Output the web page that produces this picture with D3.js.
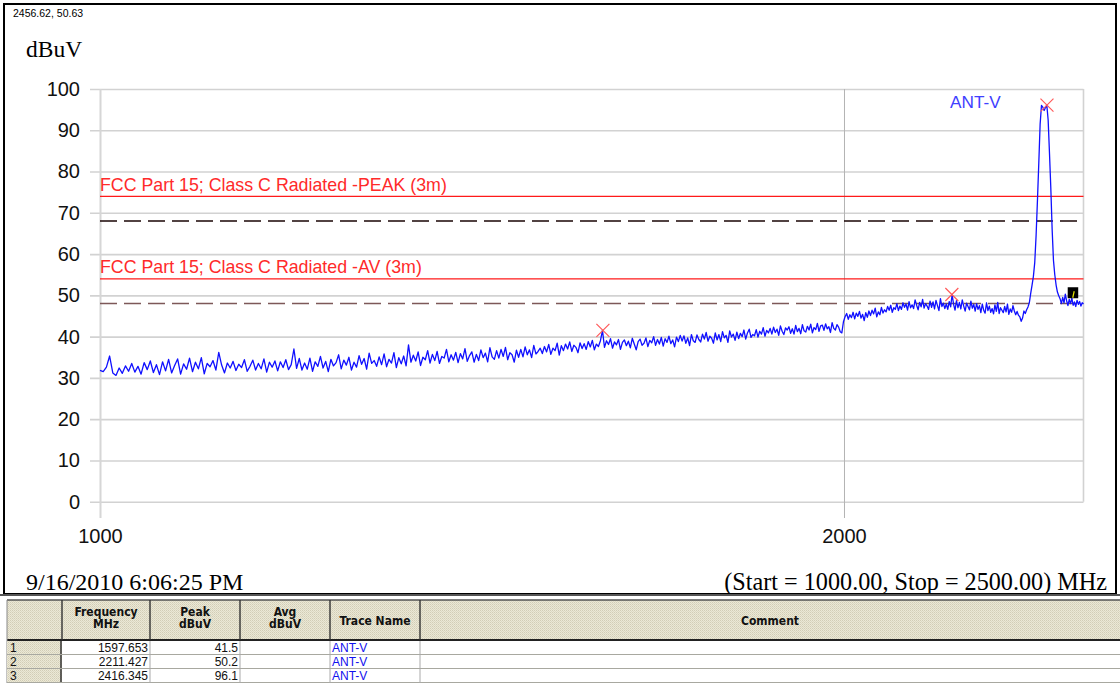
<!DOCTYPE html>
<html><head><meta charset="utf-8">
<script src="https://cdn.jsdelivr.net/npm/d3@7"></script>
<style>body{margin:0;background:#fff}svg{display:block}</style>
</head><body>
<script>
// ---------- data ----------
const startFreq = 1000, stopFreq = 2500, stepFreq = 3;
const traceValues = [
31.8,31.5,32.6,35.3,31.2,30.6,32.4,31.1,32.9,31.6,
33.5,31.4,32.8,30.9,33.7,32.0,34.1,31.3,33.2,30.8,
33.9,31.7,34.5,31.2,33.0,34.6,30.9,33.4,32.1,34.8,
31.5,33.8,32.2,34.9,31.0,33.5,32.7,34.2,31.9,36.2,
33.1,31.2,33.6,32.4,34.0,31.8,33.3,32.5,34.4,31.6,
32.8,34.3,31.9,33.5,32.2,34.6,31.4,33.8,32.6,34.1,
31.7,33.9,32.5,34.4,32.0,33.2,37.0,32.3,34.7,31.9,
33.6,32.1,34.8,31.6,33.9,32.8,35.2,32.4,34.0,31.5,
34.5,32.9,33.7,35.6,32.2,34.3,33.1,35.0,31.9,33.8,
32.6,35.4,33.3,34.7,32.1,36.0,33.5,34.2,32.8,35.1,
33.2,35.8,32.7,34.5,33.6,36.1,32.5,34.9,33.4,35.3,
32.9,38.0,33.8,35.5,34.1,36.3,33.0,35.0,34.4,36.6,
33.6,35.7,34.2,36.4,33.5,35.2,34.8,36.9,33.9,35.6,
34.3,36.2,33.7,35.9,34.6,37.1,34.0,35.4,36.3,33.8,
35.7,34.2,36.8,34.9,36.0,33.9,37.3,35.1,34.5,36.6,
34.8,36.9,35.2,37.4,34.4,36.1,35.6,33.8,36.7,35.0,
36.9,35.1,37.5,35.6,36.8,34.9,37.9,35.8,36.4,37.2,
35.9,37.6,36.3,38.1,35.7,37.2,36.6,38.4,35.5,37.8,
36.6,38.2,37.0,38.7,36.4,37.9,37.4,36.1,38.5,37.1,
38.3,36.9,38.8,37.5,39.1,36.8,38.2,37.6,39.0,41.5,
37.4,39.0,38.1,39.5,37.2,38.7,38.0,39.3,36.9,38.6,
39.2,37.8,38.9,37.3,39.6,38.2,36.8,38.8,39.4,37.9,
38.4,39.7,37.6,39.1,38.5,40.0,37.9,39.3,38.2,39.8,
37.7,39.5,38.6,40.1,38.3,39.2,37.5,39.9,38.8,40.3,
38.9,40.2,38.4,39.7,37.8,40.5,39.0,38.6,40.4,39.3,
38.7,40.6,39.4,41.0,38.9,40.1,39.6,38.4,40.9,39.2,
40.5,38.8,41.2,39.7,40.3,38.6,41.4,39.9,40.6,39.1,
41.1,39.5,40.8,40.0,41.6,39.4,40.9,41.8,39.8,40.5,
40.2,41.7,39.9,41.3,40.6,42.2,40.1,41.5,40.9,42.0,
40.6,42.3,41.0,41.8,40.3,42.6,41.3,40.5,42.1,41.6,
42.4,40.8,41.9,40.6,42.7,41.2,42.0,40.7,42.9,41.4,
41.1,42.5,41.6,43.0,40.9,42.2,41.7,43.2,41.3,42.6,
42.8,41.5,43.1,41.9,42.4,41.0,43.4,42.0,41.6,42.9,
42.3,41.2,40.9,43.6,44.8,45.6,44.2,45.3,44.6,45.9,
44.3,45.7,44.9,46.1,44.5,45.4,43.9,45.8,44.7,46.2,
45.1,46.4,45.5,46.9,44.8,46.0,45.3,47.1,45.7,46.5,
46.0,47.3,46.4,47.6,45.9,47.0,46.6,48.0,46.3,47.4,
46.6,48.2,47.1,47.9,46.4,48.5,47.0,47.7,46.8,48.9,
47.6,46.5,48.3,47.2,49.0,46.9,48.0,47.4,46.6,48.6,
47.1,48.4,46.7,48.8,47.5,46.3,49.2,47.3,48.1,46.8,
47.9,46.6,48.5,47.2,50.2,47.8,46.4,48.7,47.0,48.3,
46.7,48.9,47.4,46.2,48.1,47.3,46.5,48.6,46.9,47.8,
46.2,48.0,46.6,47.5,45.8,47.9,46.4,45.7,48.2,46.3,
47.4,45.9,46.8,45.5,47.7,46.1,48.3,45.6,47.0,46.4,
45.8,47.3,46.0,47.9,45.4,46.7,45.9,47.5,46.2,45.3,
46.1,45.2,44.8,43.7,
44.5,46.2,45.6,46.5,47.2,48.2,50.5,52.5,54.6,58.0,
64.5,73.0,82.0,91.5,96.0,95.6,94.8,95.5,96.1,92.5,
84.5,76.0,66.0,58.5,55.0,52.5,50.8,49.9,49.2,48.0,
49.5,48.2,50.3,48.7,47.5,49.0,48.0,49.3,47.6,48.4,
47.3,48.8,47.8,48.5,47.4,48.2,47.9
];
const traceName = "ANT-V";
const yTicks = [0,10,20,30,40,50,60,70,80,90,100];
const xTicks = [1000,2000];
const limitNames = ["FCC Part 15; Class C Radiated -PEAK (3m)", "FCC Part 15; Class C Radiated -AV (3m)"];
const limitValues = [74, 54];
const marginValues = [68, 48];
const markerFreq = [1597.653, 2211.427, 2416.345];
const markerPeak = [41.5, 50.2, 96.1];
const markerAvg = ["", "", ""];
const markerTrace = ["ANT-V", "ANT-V", "ANT-V"];
const cursorFreq = 2456.62, cursorValue = 50.63;
const dateText = "9/16/2010 6:06:25 PM";
const yUnit = "dBuV";
const headerLines = [["Frequency","MHz"],["Peak","dBuV"],["Avg","dBuV"],["Trace Name"],["Comment"]];

// ---------- setup ----------
const W = 1120, H = 683;
const svg = d3.select("body").append("svg").attr("width", W).attr("height", H)
  .style("font-family", "Arial, 'Liberation Sans', sans-serif");
svg.append("rect").attr("width", W).attr("height", H).attr("fill", "#fff");

const defs = svg.append("defs");
const pat = defs.append("pattern").attr("id","dither").attr("width",2).attr("height",2).attr("patternUnits","userSpaceOnUse");
pat.append("rect").attr("width",2).attr("height",2).attr("fill","#ebe8d6");
pat.append("rect").attr("x",0).attr("y",0).attr("width",1).attr("height",1).attr("fill","#d2cdb6");
pat.append("rect").attr("x",1).attr("y",1).attr("width",1).attr("height",1).attr("fill","#dcd8c2");

const x = d3.scaleLog().domain([startFreq, stopFreq]).range([100, 1083.5]);
const y = d3.scaleLinear().domain([0, 100]).range([501.7, 89]);

// outer frame
svg.append("rect").attr("x",4).attr("y",4).attr("width",1112).attr("height",590)
  .attr("fill","none").attr("stroke","#000").attr("stroke-width",2);

// y axis with gridlines
const yAxisG = svg.append("g").attr("transform","translate(1083.5,0)")
  .call(d3.axisLeft(y).tickValues(yTicks).tickSize(993.5).tickPadding(10).tickFormat(d3.format("d")));
yAxisG.select(".domain").remove();
yAxisG.selectAll("line").attr("stroke","#d2d2d2").attr("stroke-width",1.6);
yAxisG.selectAll("text").attr("font-size",20).attr("fill","#111").attr("font-family","Arial, 'Liberation Sans', sans-serif");

// x axis with vertical gridlines
const xAxisG = svg.append("g").attr("transform","translate(0,89)")
  .call(d3.axisBottom(x).tickValues(xTicks).tickSize(429).tickPadding(11).tickFormat(d3.format("d")));
xAxisG.select(".domain").remove();
xAxisG.selectAll("line").attr("stroke", d => d === startFreq ? "#d6d6d6" : "#b4b4b4")
  .attr("stroke-width", d => d === startFreq ? 2 : 1);
xAxisG.selectAll("text").attr("font-size",20).attr("fill","#111").attr("font-family","Arial, 'Liberation Sans', sans-serif");

// right border
svg.append("line").attr("x1",x(stopFreq)).attr("x2",x(stopFreq)).attr("y1",y(100)).attr("y2",y(0))
  .attr("stroke","#d2d2d2").attr("stroke-width",1.6);

// limit lines
svg.selectAll(".limit").data(limitValues).enter().append("line")
  .attr("x1", x(startFreq)).attr("x2", x(stopFreq))
  .attr("y1", d => y(d)).attr("y2", d => y(d))
  .attr("stroke","#ff1a1a").attr("stroke-width",1.3);
svg.selectAll(".limitLabel").data(limitNames).enter().append("text")
  .attr("x", x(startFreq)).attr("y", (d,i) => y(limitValues[i]) - 5.5)
  .attr("font-size",17.8).attr("fill","#ff2a2a").text(d => d);
svg.selectAll(".margin").data(marginValues).enter().append("line")
  .attr("x1", x(startFreq)).attr("x2", x(stopFreq))
  .attr("y1", d => y(d)).attr("y2", d => y(d))
  .attr("stroke", (d,i) => i === 0 ? "#1a0505" : "#7d5858")
  .attr("stroke-width",1.5).attr("stroke-dasharray","17,7");

// trace
const traceData = traceValues.map((v,i) => ({f: startFreq + stepFreq*i, v}));
svg.append("path").datum(traceData)
  .attr("d", d3.line().x(d => x(d.f)).y(d => y(d.v)))
  .attr("fill","none").attr("stroke","#1010ff").attr("stroke-width",1.3).attr("stroke-linejoin","round");

svg.append("text").attr("x", 950).attr("y", 108).attr("font-size",17.2).attr("fill","#4040ff").text(traceName);

// markers
markerFreq.forEach((f,i) => {
  const cx = x(f), cy = y(markerPeak[i]), s = 6.5;
  svg.append("path").attr("d", `M${cx-s},${cy-s}L${cx+s},${cy+s}M${cx-s},${cy+s}L${cx+s},${cy-s}`)
    .attr("stroke","#ff5a5a").attr("stroke-width",1.2).attr("fill","none");
});

// cursor marker
const cx0 = x(cursorFreq) + 3, cy0 = y(cursorValue);
svg.append("rect").attr("x", cx0).attr("y", cy0 - 5.5).attr("width", 10.5).attr("height", 11).attr("fill","#000");
svg.append("line").attr("x1", cx0+5).attr("x2", cx0+6.5).attr("y1", cy0+5).attr("y2", cy0-1.5).attr("stroke","#e8e800").attr("stroke-width",1.2);

// texts
svg.append("text").attr("x",13).attr("y",17).attr("font-size",10.5).attr("fill","#000").text(`${cursorFreq}, ${cursorValue}`);
svg.append("text").attr("x",26).attr("y",57).attr("font-size",23.5).attr("font-family","'Liberation Serif','Times New Roman',serif").attr("fill","#000").text(yUnit);
svg.append("text").attr("x",26).attr("y",590).attr("font-size",24).attr("font-family","'Liberation Serif','Times New Roman',serif").attr("fill","#000").text(dateText);
svg.append("text").attr("x",1107).attr("y",590).attr("text-anchor","end").attr("font-size",24.2).attr("font-family","'Liberation Serif','Times New Roman',serif").attr("fill","#000")
  .text(`(Start = ${d3.format(".2f")(startFreq)}, Stop = ${d3.format(".2f")(stopFreq)}) MHz`);

// ---------- table ----------
const colEdges = [7, 62, 150, 240, 330, 420, 1120];
const headTop = 600, headBot = 640, rowH = 14;
svg.append("rect").attr("x",0).attr("y",596).attr("width",W).attr("height",H-596).attr("fill","#fff");
svg.append("line").attr("x1",0).attr("x2",W).attr("y1",595).attr("y2",595).attr("stroke","#555").attr("stroke-width",2);
svg.append("rect").attr("x",colEdges[0]).attr("y",headTop).attr("width",W-colEdges[0]).attr("height",headBot-headTop).attr("fill","url(#dither)");
svg.append("line").attr("x1",colEdges[0]).attr("x2",W).attr("y1",headTop).attr("y2",headTop).attr("stroke","#555").attr("stroke-width",1.5);
svg.append("line").attr("x1",colEdges[0]).attr("x2",W).attr("y1",headBot).attr("y2",headBot).attr("stroke","#222").attr("stroke-width",1.8);
colEdges.slice(1,6).forEach(cx => {
  svg.append("line").attr("x1",cx).attr("x2",cx).attr("y1",headTop).attr("y2",headBot).attr("stroke","#333").attr("stroke-width",1.4);
});
svg.append("line").attr("x1",colEdges[0]).attr("x2",colEdges[0]).attr("y1",headTop).attr("y2",H).attr("stroke","#888").attr("stroke-width",1);
headerLines.forEach((lines,i) => {
  const cx = (colEdges[i+1] + colEdges[i+2]) / 2;
  const y0 = lines.length === 2 ? 616 : 625;
  lines.forEach((t,j) => {
    svg.append("text").attr("x",cx).attr("y",y0 + j*12).attr("text-anchor","middle")
      .attr("font-size",12).attr("font-weight","bold").attr("fill","#111")
      .attr("font-family","Tahoma,'DejaVu Sans Condensed',Arial,sans-serif").text(t);
  });
});
markerFreq.forEach((f,i) => {
  const top = headBot + 1 + i*rowH;
  svg.append("rect").attr("x",colEdges[0]).attr("y",top).attr("width",colEdges[1]-colEdges[0]).attr("height",rowH-1).attr("fill","url(#dither)");
  svg.append("line").attr("x1",colEdges[0]).attr("x2",W).attr("y1",top+rowH-0.5).attr("y2",top+rowH-0.5).attr("stroke","#a8a8a0").attr("stroke-width",1);
  svg.append("line").attr("x1",colEdges[1]-1).attr("x2",colEdges[1]-1).attr("y1",top).attr("y2",top+rowH-1).attr("stroke","#333").attr("stroke-width",1.5);
  [2,3,4,5].forEach(k => svg.append("line").attr("x1",colEdges[k]).attr("x2",colEdges[k]).attr("y1",top).attr("y2",top+rowH).attr("stroke","#aaa").attr("stroke-width",1));
  const ty = top + 11;
  const tf = "Arial,'Liberation Sans',sans-serif";
  svg.append("text").attr("x",colEdges[0]+3).attr("y",ty).attr("font-size",12).attr("font-family",tf).attr("fill","#111").text(i+1);
  svg.append("text").attr("x",colEdges[2]-2).attr("y",ty).attr("text-anchor","end").attr("font-size",12).attr("font-family",tf).attr("fill","#111").text(d3.format(".3f")(f));
  svg.append("text").attr("x",colEdges[3]-2).attr("y",ty).attr("text-anchor","end").attr("font-size",12).attr("font-family",tf).attr("fill","#111").text(d3.format(".1f")(markerPeak[i]));
  svg.append("text").attr("x",colEdges[3]+2).attr("y",ty).attr("text-anchor","end").attr("font-size",12).attr("font-family",tf).text(markerAvg[i]);
  svg.append("text").attr("x",colEdges[4]+2).attr("y",ty).attr("font-size",12).attr("font-family",tf).attr("fill","#1010ee").text(markerTrace[i]);
});
</script>
</body></html>
